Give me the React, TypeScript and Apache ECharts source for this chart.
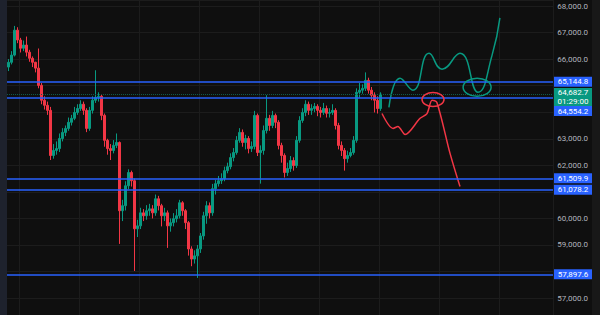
import React, { useEffect, useRef } from "react";
import * as echarts from "echarts";

// ---- Data ----
const firstOpen = 65700;

const closes = [
  65880, 66150, 67090, 66720, 66410, 66530, 66260, 66030, 65880, 65660,
  65010, 64450, 64260, 64070, 62370, 62560, 62630, 63010, 63240, 63390,
  63620, 63770, 63990, 64140, 64300, 64070, 63390, 64070, 64450, 64560,
  64600, 63880, 62940, 62630, 62560, 62750, 62860, 60290, 60480, 61230,
  61730, 61420, 59610, 59720, 60210, 60100, 60290, 60360, 60210, 60740,
  60480, 60100, 60210, 59720, 59840, 59990, 60100, 60590, 60290, 59840,
  58850, 58470, 58590, 58850, 59340, 60100, 60480, 60210, 61120, 61310,
  61420, 61500, 61800, 61950, 62290, 62480, 62940, 63240, 62860, 63010,
  62630, 62710, 63880, 62480, 62560, 63310, 63770, 63500, 63880, 63620,
  62750, 62370, 61730, 61880, 62180, 61990, 62940, 63690, 63990, 64300,
  64070, 64140, 64220, 64070, 63990, 64140, 63960, 63990, 64070, 63500,
  62750, 62560, 62250, 62370, 62480, 62940, 64750, 64830, 64900, 65200,
  64830, 64640, 64450, 64140, 64682.7,
];

const highs = [
  66000, 66300, 67250, 67200, 66800, 66700, 66850, 66350, 66100, 65900,
  66400, 65100, 64600, 64400, 64200, 62800, 62900, 63200, 63400, 63500,
  63800, 63900, 64200, 64300, 64450, 64400, 64150, 64200, 64600, 65580,
  64750, 64650, 63950, 63000, 62800, 62950, 63200, 62900, 60700, 61400,
  61850, 61800, 61500, 59950, 60400, 60350, 60500, 60550, 60500, 60900,
  60850, 60550, 60400, 60300, 60000, 60200, 60350, 60700, 60650, 60350,
  59900, 58950, 58800, 59000, 59450, 60250, 60650, 60600, 61300, 61450,
  61600, 61700, 61950, 62100, 62450, 62650, 63100, 63400, 63350, 63150,
  63100, 62900, 64050, 63950, 62750, 63500, 64640, 63900, 64050, 63950,
  63700, 62850, 62450, 62100, 62350, 62300, 63100, 63850, 64150, 64450,
  64400, 64300, 64350, 64300, 64200, 64350, 64250, 64150, 64300, 64150,
  63600, 62900, 62650, 62550, 62650, 63100, 64900, 65100, 65050, 65500,
  65300, 64950, 64750, 64600, 64750,
];

const lows = [
  65550, 65800, 66100, 66600, 66250, 66300, 66100, 65900, 65700, 65500,
  64900, 64300, 64100, 63900, 62200, 62250, 62400, 62500, 62900, 63100,
  63300, 63500, 63700, 63900, 64050, 63900, 63250, 63300, 63950, 64350,
  64400, 63700, 62700, 62400, 62200, 62450, 62650, 59040, 59900, 60300,
  61100, 61200, 58020, 59300, 59600, 59900, 59950, 60100, 60000, 60100,
  60300, 59700, 59900, 58890, 59500, 59700, 59850, 60000, 60100, 59600,
  58600, 58200, 58300, 57760, 58700, 59200, 59800, 60000, 60100, 60900,
  61200, 61300, 61400, 61700, 61850, 62150, 62400, 62850, 62700, 62600,
  62450, 62500, 62600, 62350, 61310, 62400, 63200, 63300, 63400, 63400,
  62600, 62100, 61540, 61600, 61750, 61800, 61900, 62850, 63600, 63850,
  63900, 63900, 64000, 63850, 63800, 63900, 63800, 63800, 63900, 63350,
  62600, 62350, 61800, 62100, 62300, 62400, 62850, 64550, 64700, 64800,
  64700, 64450, 63990, 63950, 64050,
];

const FUTURE_SLOTS = 57;

// visible price range of the pane
const priceMin = 56363;
const priceMax = 68226;

const levels = [65144.8, 64554.2, 61509.9, 61078.2, 57897.6];
const lastPrice = 64682.7;
const countdown = "01:29:00";

// hand-drawn scenario paths: [candle index, price]
const greenPath: [number, number][] = [
  [126.8, 64180], [130.5, 65280], [134.8, 64830], [140.2, 66220], [144.5, 65620],
  [150.5, 66220], [156.5, 64750], [161.2, 66150], [163.8, 67550],
];
const redPath: [number, number][] = [
  [124.5, 63950], [128.2, 63390], [129.8, 63460], [132.2, 63160], [137.2, 63770],
  [139.5, 63950], [141.2, 64450], [142.8, 64370], [147.2, 62440], [150.5, 61200],
];
const greenLoop: [number, number] = [156.2, 64940];
const redLoop: [number, number] = [141.5, 64480];

const UP = "#089981";
const DOWN = "#f23645";
const BLUE = "#2962ff";

const fmt = (v: number) =>
  v.toLocaleString("en-US", { minimumFractionDigits: 1, maximumFractionDigits: 1 });

export default function App() {
  const ref = useRef<HTMLDivElement>(null);
  useEffect(() => {
    const el = ref.current!;
    const chart = echarts.init(el, undefined, { renderer: "svg" });
    const n = closes.length;
    const total = n + FUTURE_SLOTS;
    const cats = Array.from({ length: total }, (_, i) => String(i));
    const candles = closes.map((c, i) => [i === 0 ? firstOpen : closes[i - 1], c, lows[i], highs[i]]);

    const hidden: [number, number][] = [];
    const labelFmt = (v: number) => {
      if (v <= priceMin + 1 || v >= priceMax - 1) return "";
      const y = chart.convertToPixel({ yAxisIndex: 0 }, v) as number;
      for (const [a, b] of hidden) if (y > a - 4 && y < b + 4) return "";
      return fmt(v);
    };

    const baseOption = () => ({
      animation: false,
      backgroundColor: "#0f0f0f",
      grid: { left: 7, right: 47, top: 0, bottom: 0 },
      xAxis: [
        {
          type: "category",
          data: cats,
          boundaryGap: true,
          axisLine: { show: false },
          axisTick: { show: false },
          axisLabel: { show: false },
          splitLine: {
            show: true,
            interval: (i: number) => i % 20 === 4,
            lineStyle: { color: "#1c1c1c", width: 1 },
          },
        },
        { type: "value", min: -0.5, max: total - 0.5, show: false, splitLine: { show: false } },
      ],
      yAxis: {
        type: "value",
        position: "right",
        min: priceMin,
        max: priceMax,
        splitNumber: 12,
        axisLine: { show: false },
        axisTick: { show: false },
        axisLabel: {
          color: "#b2b5be",
          fontSize: 8,
          fontFamily: "Roboto",
          align: "right",
          margin: 35,
          showMinLabel: false,
          showMaxLabel: false,
          formatter: labelFmt,
        },
        splitLine: { lineStyle: { color: "#1c1c1c", width: 1 } },
      },
      series: [
        {
          type: "candlestick",
          data: candles,
          barWidth: 2,
          itemStyle: {
            color: UP,
            color0: DOWN,
            borderColor: UP,
            borderColor0: DOWN,
            borderWidth: 1,
          },
          markLine: {
            silent: true,
            symbol: ["none", "none"],
            label: { show: false },
            data: [
              { yAxis: lastPrice, lineStyle: { color: "#0d5a4b", width: 1, type: "dotted" } },
              ...levels.map((v) => ({ yAxis: v, lineStyle: { color: BLUE, width: 1.5, type: "solid" } })),
            ],
          },
        },
        {
          type: "line",
          xAxisIndex: 1,
          data: greenPath,
          smooth: 0.5,
          showSymbol: false,
          lineStyle: { color: UP, width: 1.5 },
        },
        {
          type: "line",
          xAxisIndex: 1,
          data: redPath,
          smooth: 0.3,
          showSymbol: false,
          lineStyle: { color: DOWN, width: 1.5 },
        },
      ],
    });

    chart.setOption(baseOption());

    const py = (v: number) => chart.convertToPixel({ yAxisIndex: 0 }, v) as number;
    const px = (v: number) => chart.convertToPixel({ xAxisIndex: 1 }, v) as number;

    const boxX = 554;
    const boxW = 38;
    const lastY = py(lastPrice);
    const lastTop = lastY - 6;
    const lastH = 18;
    const font = { fontSize: 8, fontFamily: "Roboto" };
    hidden.push([lastTop, lastTop + lastH]);

    const g: any[] = [
      { type: "rect", z: 50, shape: { x: 0, y: 0, width: 7, height: 315 }, style: { fill: "#1e222d" } },
      { type: "rect", z: 50, shape: { x: 592, y: 0, width: 8, height: 315 }, style: { fill: "#181818" } },
      {
        type: "ellipse",
        z: 60,
        shape: { cx: px(greenLoop[0]), cy: py(greenLoop[1]), rx: 14, ry: 9 },
        style: { fill: "none", stroke: UP, lineWidth: 1.5 },
      },
      {
        type: "ellipse",
        z: 60,
        shape: { cx: px(redLoop[0]), cy: py(redLoop[1]), rx: 11, ry: 7 },
        style: { fill: "none", stroke: DOWN, lineWidth: 1.5 },
      },
      { type: "rect", z: 100, shape: { x: boxX, y: lastTop, width: boxW, height: lastH }, style: { fill: UP } },
      {
        type: "text",
        z: 101,
        style: { text: fmt(lastPrice), x: boxX + boxW / 2, y: lastTop + 4.8, align: "center", verticalAlign: "middle", fill: "#ffffff", ...font },
      },
      {
        type: "text",
        z: 101,
        style: { text: countdown, x: boxX + boxW / 2, y: lastTop + 13.2, align: "center", verticalAlign: "middle", fill: "#ffffff", ...font },
      },
    ];
    levels.forEach((v) => {
      const y = py(v);
      let top = y - 5;
      if (top < lastTop + lastH && top + 10 > lastTop) {
        top = y < lastY ? lastTop - 10 : lastTop + lastH;
      }
      hidden.push([top, top + 10]);
      g.push({ type: "rect", z: 100, shape: { x: boxX, y: top, width: boxW, height: 10 }, style: { fill: BLUE } });
      g.push({
        type: "text",
        z: 101,
        style: { text: fmt(v), x: boxX + boxW / 2, y: top + 5, align: "center", verticalAlign: "middle", fill: "#ffffff", ...font },
      });
    });
    // re-render axis labels now that the label boxes are known
    chart.setOption(baseOption());
    chart.setOption({ graphic: g });

    return () => chart.dispose();
  }, []);
  return <div ref={ref} style={{ position: "absolute", left: 0, top: 0, width: 600, height: 315 }} />;
}
